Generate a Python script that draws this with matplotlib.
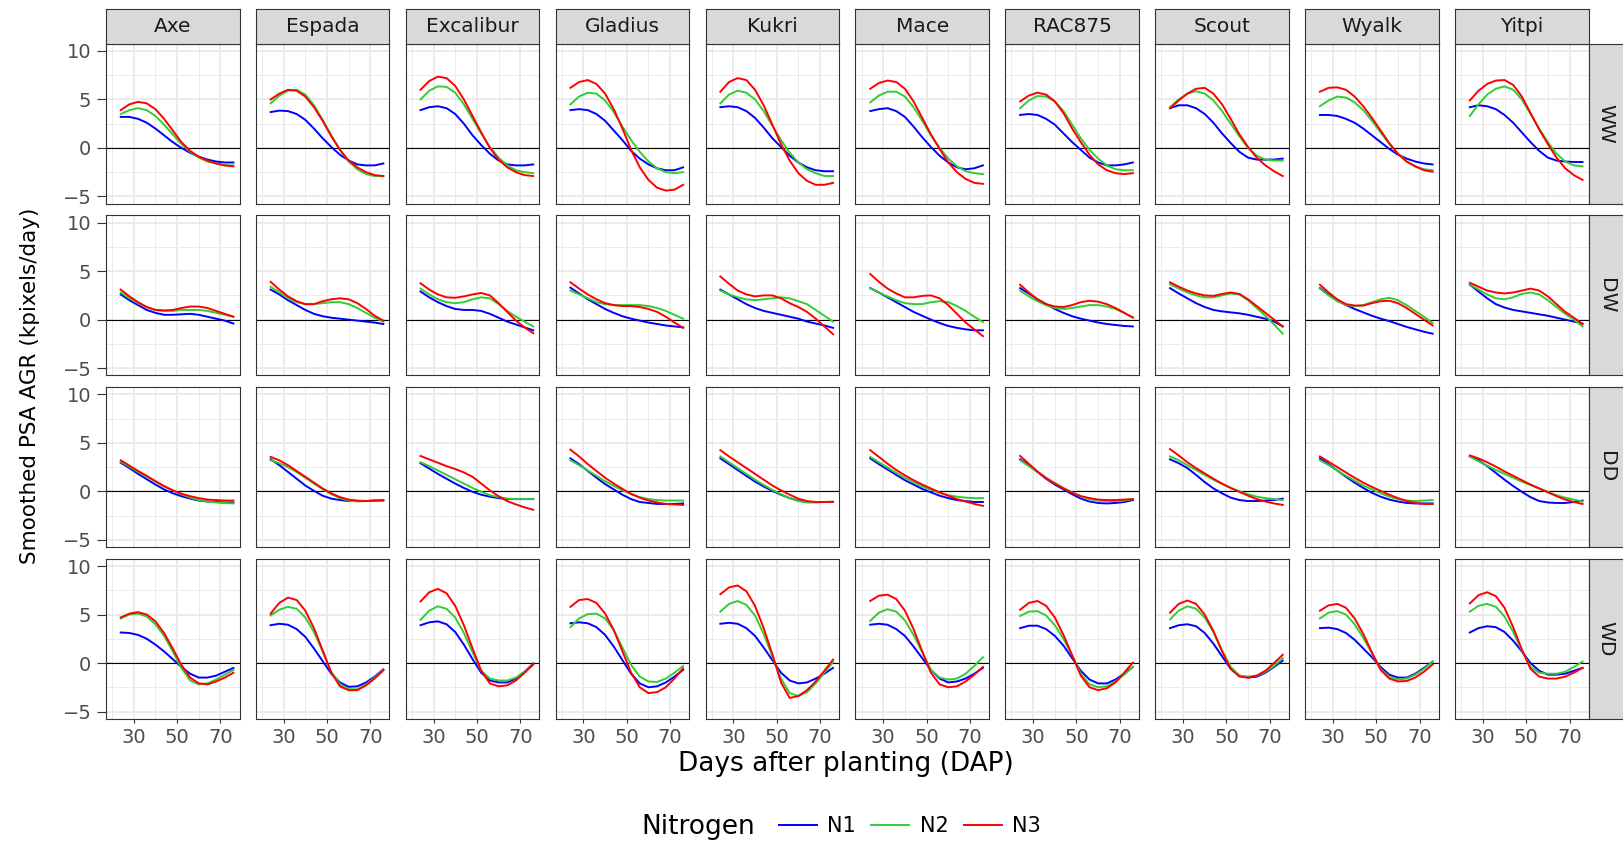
import matplotlib.pyplot as plt

# facet layout: genotypes across, water treatments down
genotypes = ["Axe", "Espada", "Excalibur", "Gladius", "Kukri",
             "Mace", "RAC875", "Scout", "Wyalk", "Yitpi"]
treatments = ["WW", "DW", "DD", "WD"]
nitrogen = ["N1", "N2", "N3"]
n_colours = ["#0000FF", "#33CC33", "#FF0000"]

dap = [24, 28, 32, 36, 40, 44, 48, 52, 56, 60, 64, 68, 72, 76]

# smoothed AGR per genotype (rows follow `genotypes`)
ww_n1 = [
    [3.2, 3.2, 3.0, 2.6, 2.0, 1.3, 0.6, 0.0, -0.5, -0.9, -1.2, -1.4, -1.5, -1.5],
    [3.7, 3.85, 3.8, 3.5, 2.9, 2.0, 1.0, 0.1, -0.7, -1.3, -1.7, -1.8, -1.8, -1.6],
    [3.9, 4.2, 4.3, 4.1, 3.5, 2.5, 1.3, 0.3, -0.6, -1.3, -1.7, -1.8, -1.8, -1.7],
    [3.9, 4.0, 3.9, 3.5, 2.8, 1.8, 0.8, -0.3, -1.1, -1.7, -2.1, -2.3, -2.3, -2.0],
    [4.2, 4.3, 4.2, 3.8, 3.1, 2.1, 1.0, 0.1, -0.8, -1.5, -2.0, -2.3, -2.4, -2.4],
    [3.8, 4.0, 4.1, 3.8, 3.2, 2.2, 1.1, 0.1, -0.8, -1.5, -2.0, -2.2, -2.1, -1.8],
    [3.4, 3.5, 3.4, 3.0, 2.4, 1.5, 0.6, -0.2, -1.0, -1.5, -1.8, -1.8, -1.7, -1.5],
    [4.1, 4.4, 4.4, 4.1, 3.5, 2.6, 1.5, 0.5, -0.4, -1.0, -1.2, -1.2, -1.2, -1.1],
    [3.4, 3.4, 3.3, 3.0, 2.6, 2.0, 1.3, 0.6, -0.1, -0.7, -1.1, -1.4, -1.6, -1.7],
    [4.2, 4.4, 4.3, 4.0, 3.4, 2.6, 1.6, 0.6, -0.3, -1.0, -1.3, -1.4, -1.45, -1.45],
]
ww_n2 = [
    [3.5, 3.9, 4.1, 3.9, 3.3, 2.4, 1.4, 0.4, -0.4, -1.0, -1.4, -1.6, -1.8, -1.8],
    [4.6, 5.4, 5.9, 6.0, 5.5, 4.4, 2.9, 1.3, -0.2, -1.4, -2.2, -2.7, -2.9, -2.9],
    [5.0, 5.9, 6.35, 6.3, 5.7, 4.5, 3.0, 1.5, 0.1, -1.0, -1.8, -2.3, -2.5, -2.6],
    [4.5, 5.3, 5.7, 5.6, 4.9, 3.7, 2.2, 0.8, -0.4, -1.4, -2.1, -2.5, -2.6, -2.5],
    [4.6, 5.5, 5.9, 5.7, 5.0, 3.8, 2.3, 0.8, -0.5, -1.5, -2.2, -2.6, -2.9, -2.9],
    [4.7, 5.4, 5.8, 5.8, 5.3, 4.2, 2.8, 1.3, 0.0, -1.1, -1.9, -2.4, -2.6, -2.7],
    [4.1, 4.9, 5.35, 5.3, 4.8, 3.8, 2.4, 1.0, -0.2, -1.1, -1.8, -2.2, -2.3, -2.3],
    [4.2, 5.0, 5.6, 5.85, 5.6, 4.9, 3.8, 2.5, 1.2, 0.0, -0.8, -1.2, -1.3, -1.3],
    [4.3, 4.9, 5.3, 5.2, 4.7, 3.9, 2.8, 1.6, 0.4, -0.6, -1.4, -1.9, -2.2, -2.3],
    [3.3, 4.5, 5.5, 6.1, 6.35, 6.0, 5.0, 3.5, 2.0, 0.6, -0.6, -1.4, -1.8, -1.9],
]
ww_n3 = [
    [3.9, 4.5, 4.75, 4.6, 4.0, 3.0, 1.8, 0.6, -0.3, -0.9, -1.3, -1.6, -1.8, -1.9],
    [5.0, 5.6, 6.0, 5.9, 5.3, 4.2, 2.8, 1.2, -0.2, -1.3, -2.0, -2.5, -2.8, -2.9],
    [6.0, 6.9, 7.35, 7.2, 6.4, 5.0, 3.3, 1.6, 0.0, -1.2, -2.0, -2.5, -2.8, -2.9],
    [6.2, 6.8, 7.0, 6.6, 5.6, 4.0, 2.0, -0.2, -2.0, -3.3, -4.1, -4.4, -4.3, -3.8],
    [5.8, 6.8, 7.2, 7.0, 6.0, 4.4, 2.4, 0.4, -1.3, -2.6, -3.4, -3.8, -3.8, -3.6],
    [6.1, 6.7, 6.95, 6.8, 6.1, 4.8, 3.1, 1.4, -0.1, -1.5, -2.5, -3.2, -3.6, -3.7],
    [4.8, 5.4, 5.7, 5.5, 4.8, 3.6, 2.0, 0.6, -0.7, -1.7, -2.3, -2.6, -2.7, -2.6],
    [4.1, 4.9, 5.6, 6.1, 6.2, 5.6, 4.5, 3.0, 1.4, 0.1, -1.0, -1.8, -2.4, -2.9],
    [5.8, 6.2, 6.25, 6.0, 5.3, 4.3, 3.1, 1.8, 0.5, -0.6, -1.4, -1.9, -2.3, -2.45],
    [4.9, 5.9, 6.6, 6.95, 7.0, 6.5, 5.3, 3.6, 1.9, 0.4, -1.0, -2.1, -2.8, -3.3],
]

dw_n1 = [
    [2.6, 2.0, 1.5, 1.0, 0.7, 0.5, 0.5, 0.55, 0.6, 0.5, 0.3, 0.1, -0.1, -0.4],
    [3.1, 2.6, 2.0, 1.5, 1.0, 0.6, 0.35, 0.2, 0.1, 0.0, -0.1, -0.2, -0.3, -0.45],
    [2.9, 2.3, 1.8, 1.4, 1.1, 1.0, 1.0, 0.9, 0.6, 0.2, -0.2, -0.5, -0.8, -1.1],
    [3.3, 2.7, 2.1, 1.6, 1.1, 0.7, 0.35, 0.1, -0.1, -0.3, -0.45, -0.6, -0.7, -0.8],
    [3.1, 2.6, 2.1, 1.6, 1.2, 0.9, 0.7, 0.5, 0.3, 0.1, -0.2, -0.4, -0.6, -0.85],
    [3.25, 2.8, 2.3, 1.8, 1.3, 0.8, 0.4, 0.0, -0.35, -0.65, -0.85, -1.0, -1.1, -1.1],
    [3.25, 2.7, 2.1, 1.6, 1.1, 0.7, 0.35, 0.1, -0.1, -0.3, -0.45, -0.55, -0.65, -0.7],
    [3.25, 2.7, 2.2, 1.7, 1.3, 1.0, 0.85, 0.75, 0.65, 0.5, 0.3, 0.1, -0.2, -0.7],
    [3.25, 2.6, 2.0, 1.5, 1.1, 0.75, 0.4, 0.1, -0.15, -0.45, -0.75, -1.0, -1.25, -1.45],
    [3.6, 2.9, 2.2, 1.6, 1.25, 1.0, 0.85, 0.7, 0.55, 0.4, 0.2, 0.0, -0.2, -0.4],
]
dw_n2 = [
    [2.8, 2.2, 1.7, 1.3, 1.0, 0.9, 0.9, 1.0, 1.0, 1.0, 0.9, 0.7, 0.5, 0.3],
    [3.4, 2.8, 2.2, 1.8, 1.6, 1.6, 1.7, 1.8, 1.8, 1.6, 1.2, 0.7, 0.2, -0.2],
    [3.2, 2.6, 2.1, 1.8, 1.7, 1.8, 2.1, 2.3, 2.2, 1.6, 0.9, 0.3, -0.2, -0.7],
    [3.0, 2.6, 2.2, 1.8, 1.6, 1.5, 1.5, 1.5, 1.5, 1.4, 1.2, 0.9, 0.5, 0.1],
    [3.0, 2.6, 2.3, 2.1, 2.0, 2.1, 2.2, 2.3, 2.2, 1.9, 1.6, 1.0, 0.4, -0.2],
    [3.25, 2.8, 2.4, 2.0, 1.7, 1.6, 1.6, 1.8, 1.9, 1.8, 1.4, 0.9, 0.3, -0.25],
    [3.0, 2.4, 1.9, 1.5, 1.2, 1.1, 1.2, 1.35, 1.5, 1.5, 1.35, 1.1, 0.7, 0.25],
    [3.65, 3.2, 2.8, 2.5, 2.3, 2.3, 2.5, 2.7, 2.6, 2.0, 1.2, 0.4, -0.5, -1.45],
    [3.2, 2.5, 1.9, 1.5, 1.4, 1.5, 1.8, 2.1, 2.25, 2.0, 1.5, 0.9, 0.3, -0.35],
    [3.6, 3.1, 2.6, 2.2, 2.1, 2.3, 2.65, 2.8, 2.6, 2.0, 1.3, 0.6, 0.0, -0.7],
]
dw_n3 = [
    [3.1, 2.4, 1.8, 1.3, 1.0, 0.95, 1.0, 1.2, 1.35, 1.35, 1.2, 0.9, 0.6, 0.3],
    [3.9, 3.1, 2.4, 1.9, 1.6, 1.6, 1.9, 2.1, 2.2, 2.1, 1.7, 1.1, 0.4, -0.1],
    [3.75, 3.1, 2.6, 2.3, 2.25, 2.4, 2.6, 2.75, 2.5, 1.7, 0.8, -0.1, -0.8, -1.4],
    [3.85, 3.2, 2.6, 2.1, 1.7, 1.5, 1.4, 1.4, 1.3, 1.1, 0.8, 0.3, -0.3, -0.85],
    [4.45, 3.7, 3.0, 2.6, 2.4, 2.5, 2.5, 2.2, 1.7, 1.3, 0.8, 0.1, -0.7, -1.5],
    [4.7, 3.9, 3.2, 2.7, 2.3, 2.3, 2.45, 2.5, 2.2, 1.5, 0.6, -0.3, -1.0, -1.7],
    [3.6, 2.8, 2.1, 1.6, 1.35, 1.3, 1.5, 1.8, 1.95, 1.85, 1.6, 1.2, 0.7, 0.2],
    [3.85, 3.4, 3.0, 2.7, 2.5, 2.45, 2.65, 2.8, 2.65, 2.1, 1.4, 0.7, 0.0, -0.7],
    [3.6, 2.8, 2.1, 1.6, 1.45, 1.45, 1.7, 1.9, 1.95, 1.7, 1.2, 0.6, 0.0, -0.6],
    [3.8, 3.4, 3.0, 2.8, 2.7, 2.8, 3.0, 3.2, 3.0, 2.4, 1.6, 0.8, 0.2, -0.45],
]

dd_n1 = [
    [2.95, 2.4, 1.8, 1.25, 0.7, 0.2, -0.2, -0.5, -0.75, -0.95, -1.05, -1.1, -1.15, -1.15],
    [3.3, 2.7, 2.0, 1.3, 0.6, 0.05, -0.45, -0.75, -0.9, -1.0, -1.0, -1.0, -0.95, -0.95],
    [2.9, 2.35, 1.8, 1.3, 0.8, 0.35, -0.05, -0.35, -0.55, -0.7, -0.8, -0.8, -0.8, -0.8],
    [3.4, 2.8, 2.1, 1.4, 0.75, 0.2, -0.35, -0.8, -1.1, -1.2, -1.3, -1.3, -1.3, -1.25],
    [3.4, 2.8, 2.2, 1.6, 1.0, 0.5, 0.05, -0.35, -0.7, -0.95, -1.1, -1.1, -1.1, -1.1],
    [3.4, 2.8, 2.25, 1.7, 1.15, 0.7, 0.25, -0.1, -0.45, -0.7, -0.9, -1.0, -1.1, -1.1],
    [3.3, 2.7, 2.0, 1.3, 0.7, 0.2, -0.3, -0.75, -1.05, -1.2, -1.25, -1.2, -1.1, -0.9],
    [3.3, 2.9, 2.4, 1.7, 0.95, 0.3, -0.2, -0.65, -0.9, -1.0, -1.0, -0.95, -0.9, -0.75],
    [3.4, 2.8, 2.15, 1.5, 0.9, 0.35, -0.15, -0.55, -0.85, -1.05, -1.2, -1.25, -1.25, -1.25],
    [3.6, 3.2, 2.6, 1.9, 1.2, 0.55, -0.05, -0.6, -1.0, -1.15, -1.2, -1.2, -1.1, -0.95],
]
dd_n2 = [
    [3.05, 2.55, 2.0, 1.5, 1.0, 0.5, 0.1, -0.3, -0.65, -0.9, -1.05, -1.15, -1.2, -1.25],
    [3.2, 2.9, 2.5, 2.0, 1.4, 0.8, 0.2, -0.3, -0.7, -0.95, -1.05, -1.0, -0.95, -0.95],
    [3.0, 2.6, 2.15, 1.7, 1.25, 0.8, 0.35, -0.05, -0.4, -0.6, -0.75, -0.8, -0.8, -0.8],
    [3.2, 2.7, 2.15, 1.6, 1.05, 0.55, 0.1, -0.3, -0.6, -0.8, -0.9, -0.95, -0.95, -0.95],
    [3.6, 3.0, 2.4, 1.8, 1.2, 0.65, 0.15, -0.3, -0.7, -1.0, -1.15, -1.15, -1.1, -1.05],
    [3.55, 3.0, 2.45, 1.9, 1.4, 0.95, 0.5, 0.15, -0.15, -0.4, -0.55, -0.65, -0.7, -0.7],
    [3.2, 2.6, 2.0, 1.4, 0.85, 0.35, -0.1, -0.5, -0.8, -0.95, -1.0, -1.0, -0.95, -0.8],
    [3.6, 3.2, 2.7, 2.2, 1.7, 1.2, 0.75, 0.35, 0.0, -0.3, -0.55, -0.7, -0.8, -0.9],
    [3.2, 2.7, 2.15, 1.6, 1.1, 0.6, 0.2, -0.2, -0.55, -0.8, -0.95, -1.0, -0.95, -0.9],
    [3.6, 3.1, 2.65, 2.2, 1.8, 1.4, 1.0, 0.65, 0.3, -0.05, -0.4, -0.65, -0.85, -1.05],
]
dd_n3 = [
    [3.2, 2.65, 2.1, 1.6, 1.05, 0.55, 0.1, -0.25, -0.5, -0.7, -0.85, -0.9, -0.95, -0.95],
    [3.55, 3.2, 2.7, 2.1, 1.5, 0.9, 0.3, -0.2, -0.6, -0.85, -0.95, -1.0, -0.95, -0.9],
    [3.65, 3.3, 2.95, 2.6, 2.3, 1.95, 1.5, 0.8, 0.1, -0.5, -1.0, -1.35, -1.65, -1.9],
    [4.3, 3.6, 2.8, 2.1, 1.4, 0.8, 0.25, -0.25, -0.65, -0.95, -1.15, -1.3, -1.35, -1.4],
    [4.25, 3.6, 3.0, 2.4, 1.8, 1.2, 0.6, 0.1, -0.35, -0.75, -1.0, -1.1, -1.1, -1.1],
    [4.25, 3.55, 2.85, 2.2, 1.65, 1.15, 0.7, 0.3, -0.1, -0.45, -0.8, -1.05, -1.3, -1.5],
    [3.65, 2.85, 2.05, 1.35, 0.8, 0.3, -0.15, -0.5, -0.7, -0.85, -0.9, -0.9, -0.85, -0.8],
    [4.35, 3.7, 3.0, 2.4, 1.85, 1.3, 0.8, 0.35, -0.05, -0.45, -0.8, -1.05, -1.25, -1.4],
    [3.6, 3.05, 2.5, 1.95, 1.4, 0.9, 0.45, 0.05, -0.35, -0.7, -1.0, -1.2, -1.3, -1.3],
    [3.7, 3.4, 3.0, 2.55, 2.05, 1.6, 1.15, 0.7, 0.3, -0.1, -0.5, -0.85, -1.1, -1.3],
]

wd_n1 = [
    [3.15, 3.1, 2.9, 2.5, 1.9, 1.2, 0.4, -0.4, -1.1, -1.5, -1.5, -1.3, -0.9, -0.5],
    [3.9, 4.05, 3.95, 3.5, 2.7, 1.5, 0.2, -1.1, -2.0, -2.45, -2.4, -2.0, -1.4, -0.65],
    [3.9, 4.2, 4.3, 4.0, 3.2, 1.9, 0.4, -1.0, -1.8, -2.0, -2.0, -1.6, -0.9, -0.05],
    [4.1, 4.2, 4.1, 3.7, 2.9, 1.7, 0.3, -1.1, -2.1, -2.5, -2.4, -2.0, -1.4, -0.7],
    [4.05, 4.15, 4.05, 3.6, 2.8, 1.6, 0.3, -1.0, -1.8, -2.1, -2.0, -1.6, -1.1, -0.5],
    [3.95, 4.05, 3.95, 3.5, 2.8, 1.7, 0.5, -0.7, -1.6, -2.0, -1.9, -1.6, -1.1, -0.5],
    [3.6, 3.85, 3.85, 3.5, 2.8, 1.8, 0.5, -0.8, -1.7, -2.1, -2.1, -1.7, -1.1, -0.4],
    [3.6, 3.9, 4.0, 3.8, 3.1, 2.0, 0.7, -0.6, -1.3, -1.5, -1.4, -1.0, -0.4, 0.25],
    [3.6, 3.65, 3.5, 3.1, 2.4, 1.5, 0.6, -0.4, -1.2, -1.5, -1.5, -1.1, -0.5, 0.15],
    [3.15, 3.6, 3.8, 3.7, 3.2, 2.3, 1.2, 0.0, -0.8, -1.2, -1.2, -1.1, -0.8, -0.5],
]
wd_n2 = [
    [4.6, 5.0, 5.1, 4.8, 4.0, 2.8, 1.2, -0.5, -1.8, -2.2, -2.1, -1.7, -1.2, -0.7],
    [4.9, 5.5, 5.8, 5.6, 4.7, 3.2, 1.2, -0.9, -2.2, -2.7, -2.7, -2.2, -1.5, -0.7],
    [4.45, 5.4, 5.85, 5.6, 4.7, 3.1, 1.1, -0.8, -1.6, -1.8, -1.8, -1.5, -0.9, -0.15],
    [3.7, 4.6, 5.05, 5.1, 4.6, 3.4, 1.6, -0.2, -1.4, -1.9, -1.95, -1.6, -1.0, -0.3],
    [5.3, 6.1, 6.4, 6.0, 4.9, 3.0, 0.7, -1.6, -3.1, -3.4, -3.0, -2.1, -1.0, 0.1],
    [4.35, 5.2, 5.55, 5.3, 4.4, 2.9, 1.1, -0.7, -1.5, -1.7, -1.6, -1.1, -0.3, 0.6],
    [4.85, 5.3, 5.35, 4.9, 3.9, 2.5, 0.8, -1.1, -2.2, -2.5, -2.4, -1.9, -1.2, -0.4],
    [4.5, 5.4, 5.85, 5.6, 4.7, 3.2, 1.3, -0.4, -1.3, -1.4, -1.3, -0.9, -0.3, 0.5],
    [4.6, 5.2, 5.35, 5.0, 4.0, 2.6, 1.0, -0.6, -1.4, -1.7, -1.6, -1.2, -0.6, 0.15],
    [5.3, 5.9, 6.1, 5.8, 4.8, 3.2, 1.3, -0.4, -1.0, -1.1, -1.1, -0.9, -0.4, 0.15],
]
wd_n3 = [
    [4.7, 5.1, 5.25, 5.0, 4.3, 3.1, 1.5, -0.2, -1.5, -2.1, -2.2, -1.9, -1.5, -1.0],
    [5.1, 6.2, 6.75, 6.5, 5.4, 3.6, 1.3, -1.0, -2.4, -2.8, -2.8, -2.3, -1.6, -0.75],
    [6.35, 7.3, 7.65, 7.2, 5.9, 3.9, 1.5, -0.8, -2.1, -2.4, -2.3, -1.8, -1.0, -0.15],
    [5.8, 6.5, 6.6, 6.2, 5.1, 3.4, 1.2, -1.0, -2.5, -3.1, -3.0, -2.5, -1.6, -0.55],
    [7.1, 7.8, 8.0, 7.4, 5.9, 3.6, 0.9, -2.0, -3.6, -3.4, -2.8, -1.9, -0.8, 0.35],
    [6.4, 6.95, 7.05, 6.6, 5.4, 3.5, 1.2, -1.0, -2.2, -2.5, -2.4, -1.9, -1.2, -0.4],
    [5.5, 6.2, 6.4, 5.9, 4.7, 2.9, 0.8, -1.3, -2.5, -2.8, -2.6, -2.0, -1.0, 0.05],
    [5.2, 6.1, 6.45, 6.1, 5.0, 3.3, 1.2, -0.6, -1.4, -1.5, -1.3, -0.8, 0.0, 0.85],
    [5.4, 5.95, 6.1, 5.7, 4.6, 3.0, 1.1, -0.7, -1.6, -1.9, -1.85, -1.5, -0.9, -0.15],
    [6.15, 7.0, 7.3, 6.9, 5.7, 3.7, 1.4, -0.6, -1.4, -1.6, -1.6, -1.4, -1.0, -0.5],
]

curves = {
    "WW": [ww_n1, ww_n2, ww_n3],
    "DW": [dw_n1, dw_n2, dw_n3],
    "DD": [dd_n1, dd_n2, dd_n3],
    "WD": [wd_n1, wd_n2, wd_n3],
}

W, H = 1624, 841
fig = plt.figure(figsize=(W / 100, H / 100), dpi=100)


def box(x, y, w, h):
    # pixel rectangle (top-left origin) -> figure fraction
    return [x / W, 1 - (y + h) / H, w / W, h / H]


px0, py0, pw, ph = 106, 43.7, 133.5, 160
dx, dy = 149.9, 171.7
strip_h = 34.4
border = "#333333"
strip_bg = "#D9D9D9"
grid_col = "#EBEBEB"

handles = None
for r, trt in enumerate(treatments):
    for c, geno in enumerate(genotypes):
        ax = fig.add_axes(box(px0 + c * dx, py0 + r * dy, pw, ph))
        ax.set_xlim(17.2, 78.8)
        ax.set_ylim(-5.75, 10.75)
        ax.set_xticks([30, 50, 70])
        ax.set_xticks([20, 40, 60], minor=True)
        ax.set_yticks([-5, 0, 5, 10])
        ax.set_yticks([-2.5, 2.5, 7.5], minor=True)
        ax.grid(which="major", color=grid_col, lw=1.4)
        ax.grid(which="minor", color=grid_col, lw=0.7)
        ax.set_axisbelow(True)
        ax.axhline(0, color="black", lw=0.8, zorder=1.5)

        lines = []
        for k in range(3):
            ln, = ax.plot(dap, curves[trt][k][c], color=n_colours[k], lw=1.4, zorder=2 + k)
            lines.append(ln)
        if handles is None:
            handles = lines

        left = c == 0
        bottom = r == len(treatments) - 1
        ax.tick_params(which="minor", length=0)
        ax.tick_params(axis="x", which="major", length=2.9 if bottom else 0, width=0.8,
                       color=border, pad=4, labelsize=14, labelcolor="#4D4D4D",
                       labelbottom=bottom)
        ax.tick_params(axis="y", which="major", length=6.5 if left else 0, width=0.8,
                       color=border, pad=4, labelsize=14, labelcolor="#4D4D4D",
                       labelleft=left)
        for sp in ax.spines.values():
            sp.set_color(border)
            sp.set_linewidth(0.8)

        # column strips along the top
        if r == 0:
            sax = fig.add_axes(box(px0 + c * dx, py0 - strip_h, pw, strip_h))
            sax.set_facecolor(strip_bg)
            sax.set_xticks([])
            sax.set_yticks([])
            for sp in sax.spines.values():
                sp.set_color(border)
                sp.set_linewidth(0.8)
            sax.text(0.5, 0.5, geno, ha="center", va="center", fontsize=14.5,
                     color="#1A1A1A", transform=sax.transAxes)

    # row strips on the right
    rax = fig.add_axes(box(px0 + 9 * dx + pw, py0 + r * dy, 35.4, ph))
    rax.set_facecolor(strip_bg)
    rax.set_xticks([])
    rax.set_yticks([])
    for sp in rax.spines.values():
        sp.set_color(border)
        sp.set_linewidth(0.8)
    rax.text(0.5, 0.5, trt, ha="center", va="center", rotation=-90, fontsize=14.5,
             color="#1A1A1A", transform=rax.transAxes)

fig.text(30.5 / W, 1 - 385.5 / H, "Smoothed PSA AGR (kpixels/day)", rotation=90,
         ha="center", va="center", fontsize=15.5)
fig.text(846 / W, 1 - 770.7 / H, "Days after planting (DAP)", ha="center",
         va="baseline", fontsize=19)

fig.text(641 / W, 1 - 834 / H, "Nitrogen", ha="left", va="baseline", fontsize=19)
fig.legend(handles, nitrogen, ncol=3, loc="center",
           bbox_to_anchor=(910 / W, 1 - 826 / H), frameon=False, fontsize=15,
           handlelength=1.83, handletextpad=0.51, columnspacing=0.72,
           borderpad=0, borderaxespad=0)

fig.savefig("out.png", dpi=100)
